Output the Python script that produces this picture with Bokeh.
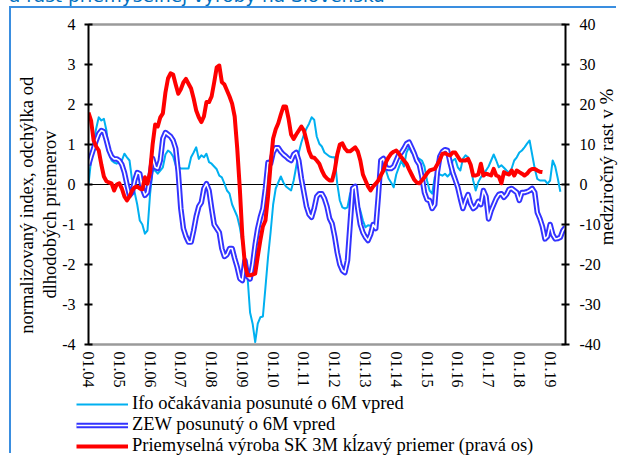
import numpy as np
from bokeh.plotting import figure
from bokeh.models import (Range1d, LinearAxis, FixedTicker, Span, Legend, LegendItem, Div)
from bokeh.embed import file_html
from bokeh.resources import INLINE

# ---------------- data (monthly, starting 01.2004) ----------------
tick_labels = ["01.04", "01.05", "01.06", "01.07", "01.08", "01.09", "01.10", "01.11",
               "01.12", "01.13", "01.14", "01.15", "01.16", "01.17", "01.18", "01.19"]
left_ticks = [-4, -3, -2, -1, 0, 1, 2, 3, 4]
right_ticks = [-40, -30, -20, -10, 0, 10, 20, 30, 40]

ifo = [0.0, 0.6, 1.1, 1.4, 1.68, 1.6, 1.64, 1.35, 0.8, 0.6,
       0.55, 0.52, 0.6, 0.6, 0.77, 0.68, 0.6, 0.1, -0.2, -0.5,
       -0.9, -1.0, -1.23, -1.15, -0.25, 0.35, 0.35, 0.27, 0.35, 0.43,
       0.75, 0.85, 0.8, 0.7, 0.48, 0.43, 0.4, 0.4, 0.4, 0.4,
       0.68, 0.8, 0.93, 0.64, 0.73, 0.68, 0.77, 0.56, 0.52, 0.45,
       0.38, 0.22, 0.18, 0.02, -0.15, -0.23, -0.5, -0.65, -0.8, -1.07,
       -1.45, -1.8, -2.3, -3.2, -3.48, -3.94, -3.48, -3.32, -3.3, -2.57,
       -1.82, -1.2, -0.5, -0.1, 0.05, 0.2, 0.05, -0.05, -0.1, -0.15,
       0.1, 0.45, 0.8, 1.05, 1.25, 1.4, 1.52, 1.68, 1.62, 1.2,
       1.02, 0.95, 0.8, 0.75, 0.7, 0.68, 0.68, 0.02, -0.4, -0.57,
       -0.6, -0.57, -0.23, -0.1, -0.2, -0.5, -0.65, -0.9, -1.07, -1.02,
       -1.03, -1.07, -0.98, -0.3, 0.5, 0.6, 0.35, 0.15, 0.05, -0.07,
       0.25, 0.43, 0.6, 0.45, 0.8, 0.93, 0.8, 0.75, 0.68, 0.64,
       0.6, 0.45, 0.1, -0.15, -0.23, 0.18, 0.27, 0.25, 0.22, 0.27,
       0.2, 0.27, 0.6, 0.64, 0.43, 0.35, 0.64, 0.73, 0.68, 0.45,
       0.1, -0.15, 0.06, 0.18, 0.27, 0.35, 0.45, 0.6, 0.75, 0.6,
       0.43, 0.48, 0.42, 0.35, 0.3, 0.4, 0.6, 0.68, 0.8, 0.85,
       0.93, 1.02, 1.1, 0.75, 0.4, 0.14, 0.1, 0.1, 0.1, 0.02,
       0.1, 0.6, 0.45, 0.15, -0.18]

zew = [0.48, 0.7, 0.9, 1.1, 1.27, 1.35, 1.32, 1.1, 0.85, 0.7,
       0.64, 0.64, 0.6, 0.5, 0.3, 0.0, -0.27, -0.2, 0.1, 0.3,
       0.27, -0.1, -0.27, -0.2, 0.2, 0.65, 0.43, 0.4, 0.6, 1.15,
       1.3, 1.25, 1.2, 1.1, 0.9, 0.3, -0.6, -1.1, -1.3, -1.44,
       -1.44, -1.15, -0.8, -0.55, -0.45, -0.1, 0.02, -0.15, -0.6, -1.0,
       -1.1, -1.2, -1.6, -1.8, -1.75, -1.6, -1.6, -1.85, -2.07, -2.35,
       -2.4, -1.9, -2.3, -2.36, -2.0, -1.5, -1.1, -0.82, -0.6, -0.1,
       0.55, 0.52, 0.8, 0.92, 0.92, 0.82, 0.75, 0.7, 0.64, 0.6,
       0.75, 0.8, 0.6, 0.15, -0.2, -0.55, -0.75, -0.82, -0.6, -0.3,
       -0.23, -0.23, -0.35, -0.55, -0.85, -0.98, -1.3, -1.7, -2.0, -2.15,
       -2.2, -1.9, -1.0, -0.1, -0.05, -0.6, -1.0, -1.2, -1.32, -1.4,
       -1.25, -1.0, -1.1, -0.3, 0.6, 0.65, 0.42, 0.4, 0.4, 0.45,
       0.6, 0.75, 0.8, 0.9, 1.02, 1.06, 0.92, 0.78, 0.6, 0.5,
       0.2, -0.2, -0.38, -0.4, -0.6, -0.5, 0.3, 0.7, 0.82, 0.87,
       0.85, 0.55, 0.3, 0.12, -0.07, -0.35, -0.6, -0.4, -0.25, -0.48,
       -0.6, -0.55, -0.42, -0.5, -0.15, -0.3, -0.86, -0.65, -0.5, -0.35,
       -0.25, -0.23, -0.32, -0.25, -0.12, -0.1, -0.15, -0.2, -0.4, -0.2,
       -0.2, -0.18, -0.15, -0.1, -0.2, -0.7, -0.85, -1.05, -1.36, -1.3,
       -1.0, -1.25, -1.36, -1.35, -1.32, -1.15, -1.07]

prod = [18, 16, 11, 9.5, 8.5, 5, 2, 0.8, 0.5, 0.3,
        -1.5, 0.0, 0.3, -1.0, -3.0, -4.0, -3.0, -1.5, -0.7, -0.5,
        -1.0, -1.2, 1.8, 0.2, 3.0, 10, 15, 14.5, 16.8, 17.8,
        23, 26.5, 27.8, 27.5, 25, 22.7, 23.8, 25.5, 26.4, 25.2,
        24, 21.5, 18.5, 16.8, 15.6, 17, 20.6, 20.6, 22, 25.5,
        29.3, 29.75, 25.6, 25, 23.5, 22, 20.2, 17, 9, -1,
        -13, -20, -22.7, -22.7, -22.5, -22.3, -18, -14, -10.5, -9,
        -3, 5, 11.5, 13.8, 15.3, 17.5, 19.5, 19.5, 16.5, 12.5,
        11.4, 12.5, 13.5, 14.5, 13.5, 11, 8.3, 6.8, 6.7, 6,
        5.2, 3.5, 2.2, 1.5, 1, 1, 3.5, 7.5, 10, 10.3,
        9, 8.3, 8.3, 8.8, 9.3, 8.3, 6, 2.5, 1, -0.5,
        -1.5, -0.5, 0.2, 1, 2.3, 3.5, 5.6, 6.8, 7.7, 8.2,
        8.5, 7.8, 6.8, 6, 5.2, 3.8, 2.5, 1.2, 0.5, 0.3,
        1, 1.8, 2.8, 3.5, 3.7, 3.9, 5, 6.2, 7.7, 7.8,
        7.5, 7.25, 8, 8, 7, 6, 6, 6, 6.4, 5,
        2.25, 2.25, 2.5, 5.2, 2.25, 2.7, 2.5, 2.25, 3.9, 2.25,
        2, 0.3, 3.1, 2.7, 2.5, 3.5, 2.25, 3.5, 3.1, 2.7,
        2.25, 2.7, 3.5, 3.9, 3.9, 3.5, 3.2, 3.1]

n_months = 187  # 01.2004 .. 07.2019

title_text = "a rast priemyselnej výroby na Slovensku"
left_title_1 = "normalizovaný index, odchýlka od"
left_title_2 = "dlhodobých priemerov"
right_title = "medziročný rast v %"
legend_labels = ["Ifo očakávania posunuté o 6M vpred",
                 "ZEW posunutý o 6M vpred",
                 "Priemyselná výroba SK 3M kĺzavý priemer (pravá os)"]

# ---------------- styles ----------------
W, H = 618, 455
BL, BR, BT, BB = 88, 53, 24, 111
SERIF = "Liberation Serif"
GRAY = "#9A9A9A"
NB = "\u00a0"
C_IFO, C_ZEW, C_PROD = "#00B0F0", "#3333FF", "#FF0000"

p = figure(width=W, height=H, output_backend="svg", toolbar_location=None,
           x_range=Range1d(0, n_months - 1), y_range=Range1d(-4, 4),
           min_border_left=BL, min_border_right=BR,
           min_border_top=BT, min_border_bottom=BB)
p.styles = {"position": "absolute", "left": "0px", "top": "0px"}
p.background_fill_color = "white"
p.border_fill_color = "white"
p.outline_line_color = None
p.xgrid.visible = False
p.ygrid.visible = False

# x axis (bottom)
xa = p.xaxis[0]
xa.ticker = FixedTicker(ticks=[12 * i for i in range(len(tick_labels))])
xa.major_label_overrides = {12 * i: t for i, t in enumerate(tick_labels)}
xa.major_label_orientation = "vertical"
xa.major_tick_in = 0
xa.major_tick_out = 0
xa.minor_tick_line_color = None
xa.axis_line_color = GRAY
xa.axis_line_width = 2.5
xa.major_label_standoff = 7
xa.major_label_text_font = SERIF
xa.major_label_text_font_size = "16px"
xa.major_label_text_color = "black"


def bare_axis(**kw):
    return LinearAxis(ticker=FixedTicker(ticks=[]), major_label_text_font_size="0px",
                      major_tick_in=0, major_tick_out=0, minor_tick_line_color=None,
                      major_label_standoff=0, **kw)


def style_value_axis(a, ticks, standoff):
    a.ticker = FixedTicker(ticks=ticks)
    a.major_label_overrides = {t: str(t) for t in ticks}
    a.major_tick_in = 4
    a.major_tick_out = 4
    a.major_tick_line_width = 2
    a.minor_tick_line_color = None
    a.axis_line_width = 2
    a.axis_line_color = "black"
    a.major_label_standoff = standoff
    a.major_label_text_font = SERIF
    a.major_label_text_font_size = "16px"
    a.major_label_text_color = "black"


# top border line
p.add_layout(bare_axis(axis_line_color=GRAY, axis_line_width=2.5), "above")

# left axis
style_value_axis(p.yaxis[0], left_ticks, 9)

# left axis title, two lines (outer axes without line/ticks)
title_kw = dict(axis_line_color=None, axis_label_text_font=SERIF,
                axis_label_text_font_size="18.5px", axis_label_text_font_style="normal",
                axis_label_text_color="black")
la2 = bare_axis(axis_label=left_title_2 + NB * 13, axis_label_standoff=0, **title_kw)
la1 = bare_axis(axis_label=left_title_1 + NB * 9, axis_label_standoff=0, **title_kw)
p.add_layout(la2, "left")
p.add_layout(la1, "left")

# right axis
p.extra_y_ranges = {"right": Range1d(-40, 40)}
ra = LinearAxis(y_range_name="right")
style_value_axis(ra, right_ticks, 10)
p.add_layout(ra, "right")

# zero line
p.add_layout(Span(location=0, dimension="width", line_color="black",
                  line_width=1.2, level="underlay"))

# series
m_ifo = np.arange(len(ifo))
m_zew = np.arange(len(zew))
m_prod = np.arange(len(prod))

p.line(m_ifo, ifo, line_color=C_IFO, line_width=2, line_join="round")
p.line(m_zew, zew, line_color=C_ZEW, line_width=5.5, line_join="round")
p.line(m_zew, zew, line_color="white", line_width=1.6, line_join="round")
p.line(m_prod, prod, y_range_name="right", line_color=C_PROD,
       line_width=4, line_join="round")

# ---------------- legend (separate small figure below the chart) ----------------
# The series are re-drawn here only as legend keys; the view range keeps them off-canvas.
LGX, LGY = 76, 393
lg = figure(width=W - LGX, height=H - LGY, output_backend="svg", toolbar_location=None,
            x_axis_type=None, y_axis_type=None, min_border=0,
            x_range=Range1d(0, n_months - 1), y_range=Range1d(1000, 1001))
lg.styles = {"position": "absolute", "left": f"{LGX}px", "top": f"{LGY}px"}
lg.outline_line_color = None
lg.background_fill_alpha = 0
lg.border_fill_alpha = 0
g1 = lg.line(m_ifo, ifo, line_color=C_IFO, line_width=2)
g2o = lg.line(m_zew, zew, line_color=C_ZEW, line_width=5.5)
g2i = lg.line(m_zew, zew, line_color="white", line_width=1.6)
g3 = lg.line(m_prod, prod, line_color=C_PROD, line_width=4)
legend = Legend(items=[
    LegendItem(label=legend_labels[0], renderers=[g1]),
    LegendItem(label=legend_labels[1], renderers=[g2o, g2i]),
    LegendItem(label=legend_labels[2], renderers=[g3]),
], location="top_left")
legend.glyph_width = 52
legend.glyph_height = 20
legend.label_height = 20
legend.spacing = 0
legend.padding = 0
legend.margin = 0
legend.label_standoff = 4
legend.border_line_color = None
legend.background_fill_alpha = 0
legend.label_text_font = SERIF
legend.label_text_font_size = "18.5px"
legend.label_text_color = "black"
lg.add_layout(legend, "center")

# right axis title (rotated HTML text, reading bottom-to-top)
RT_W, RT_H, RT_CX, RT_CY = 200, 16, 607, 167
right_title_div = Div(text=right_title, width=RT_W, height=RT_H,
                      styles={"position": "absolute",
                              "left": f"{RT_CX - RT_W // 2}px",
                              "top": f"{RT_CY - RT_H // 2}px",
                              "transform": "rotate(-90deg)",
                              "transform-origin": "50% 50%",
                              "font-family": SERIF, "font-size": "19px",
                              "line-height": f"{RT_H}px", "text-align": "center",
                              "white-space": "nowrap", "color": "black",
                              "margin": "0px", "padding": "0px"})

# cut-off title and frame box (page decorations)
title_div = Div(text=title_text,
                styles={"position": "absolute", "left": "9px", "top": "-13px",
                        "font-family": "DejaVu Sans", "font-size": "18.5px",
                        "line-height": "18.5px", "color": "#0070C0",
                        "white-space": "nowrap", "margin": "0px"})
box_div = Div(text="", width=W - 11, height=H - 8,
              styles={"position": "absolute", "left": "9px", "top": "6px",
                      "border-top": "2px solid #3A8EE0",
                      "border-left": "2px solid #3A8EE0",
                      "background": "transparent", "pointer-events": "none",
                      "margin": "0px", "padding": "0px"})

open("out.html", "w").write(file_html([p, lg, right_title_div, box_div, title_div], INLINE))
